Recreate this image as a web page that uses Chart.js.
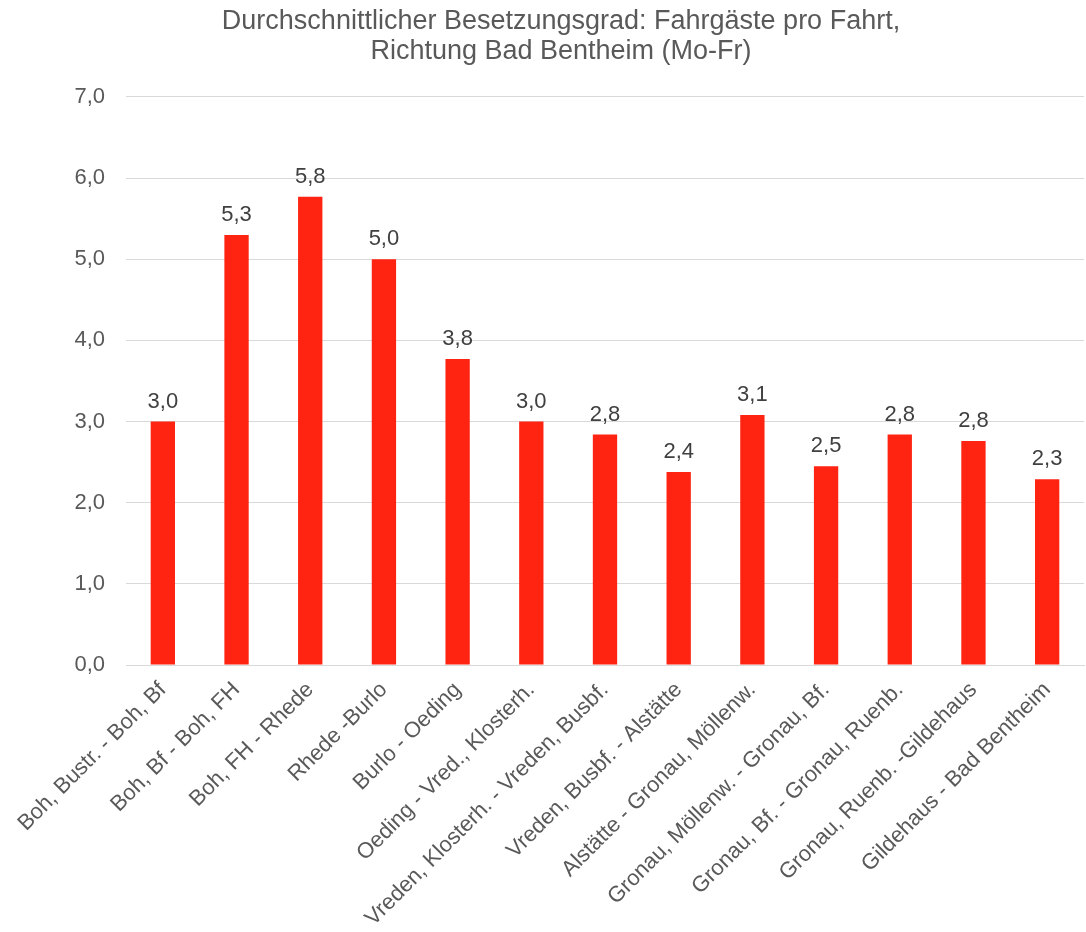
<!DOCTYPE html>
<html>
<head>
<meta charset="utf-8">
<script src="https://cdn.jsdelivr.net/npm/chart.js@4.4.1/dist/chart.umd.min.js"></script>
<style>
  html, body { margin: 0; padding: 0; background: #ffffff; }
  #wrap { width: 1086px; height: 932px; }
</style>
</head>
<body>
<div id="wrap"><canvas id="occupancyChart" width="1086" height="932"></canvas></div>
<script>
// --- DATA ---
const segments = [
  'Boh, Bustr. - Boh, Bf',
  'Boh, Bf - Boh, FH',
  'Boh, FH - Rhede',
  'Rhede -Burlo',
  'Burlo - Oeding',
  'Oeding - Vred., Klosterh.',
  'Vreden, Klosterh. - Vreden, Busbf.',
  'Vreden, Busbf. - Alstätte',
  'Alstätte - Gronau, Möllenw.',
  'Gronau, Möllenw. - Gronau, Bf.',
  'Gronau, Bf. - Gronau, Ruenb.',
  'Gronau, Ruenb. -Gildehaus',
  'Gildehaus - Bad Bentheim'
];
const passengersPerTrip = [3.0, 5.3, 5.77, 5.0, 3.77, 3.0, 2.84, 2.38, 3.08, 2.45, 2.84, 2.76, 2.29];
const yTicks = [0, 1, 2, 3, 4, 5, 6, 7];
const titleLines = ['Durchschnittlicher Besetzungsgrad: Fahrgäste pro Fahrt,', 'Richtung Bad Bentheim (Mo-Fr)'];

const FONT = "'Liberation Sans', Arial, sans-serif";
const fmt = v => v.toFixed(1).replace('.', ',');

// value labels above the bars
const barValueLabels = {
  id: 'barValueLabels',
  afterDatasetsDraw(chart) {
    const ctx = chart.ctx;
    const meta = chart.getDatasetMeta(0);
    ctx.save();
    ctx.font = '22px ' + FONT;
    ctx.fillStyle = '#404040';
    ctx.textAlign = 'center';
    ctx.textBaseline = 'alphabetic';
    meta.data.forEach((bar, i) => {
      ctx.fillText(fmt(passengersPerTrip[i]), bar.x, bar.y - 14);
    });
    ctx.restore();
  }
};

new Chart(document.getElementById('occupancyChart'), {
  type: 'bar',
  data: {
    labels: segments,
    datasets: [{
      data: passengersPerTrip,
      backgroundColor: '#ff2312',
      borderWidth: 0,
      barPercentage: 0.33,
      categoryPercentage: 1
    }]
  },
  options: {
    responsive: false,
    animation: false,
    layout: { padding: { left: 38, right: 2, top: 0, bottom: 0 } },
    plugins: {
      legend: { display: false },
      tooltip: { enabled: false },
      title: {
        display: true,
        text: titleLines,
        color: '#595959',
        font: { family: FONT, size: 27, weight: 'normal', lineHeight: 1.111 },
        padding: { top: 7, bottom: 30 }
      }
    },
    scales: {
      x: {
        grid: { display: false },
        border: { color: '#d9d9d9', width: 1 },
        ticks: {
          color: '#595959',
          font: { family: FONT, size: 22 },
          maxRotation: 45,
          minRotation: 45,
          autoSkip: false,
          padding: 4
        },
        afterFit(scale) { scale.height = 267; }
      },
      y: {
        min: 0,
        max: 7,
        afterBuildTicks(scale) { scale.ticks = yTicks.map(v => ({ value: v })); },
        grid: { color: '#d9d9d9', lineWidth: 1, drawTicks: false },
        border: { display: false },
        ticks: {
          color: '#595959',
          font: { family: FONT, size: 22 },
          padding: 21,
          callback: v => fmt(v)
        },
        afterFit(scale) { scale.width = 88; }
      }
    }
  },
  plugins: [barValueLabels]
});
</script>
</body>
</html>
